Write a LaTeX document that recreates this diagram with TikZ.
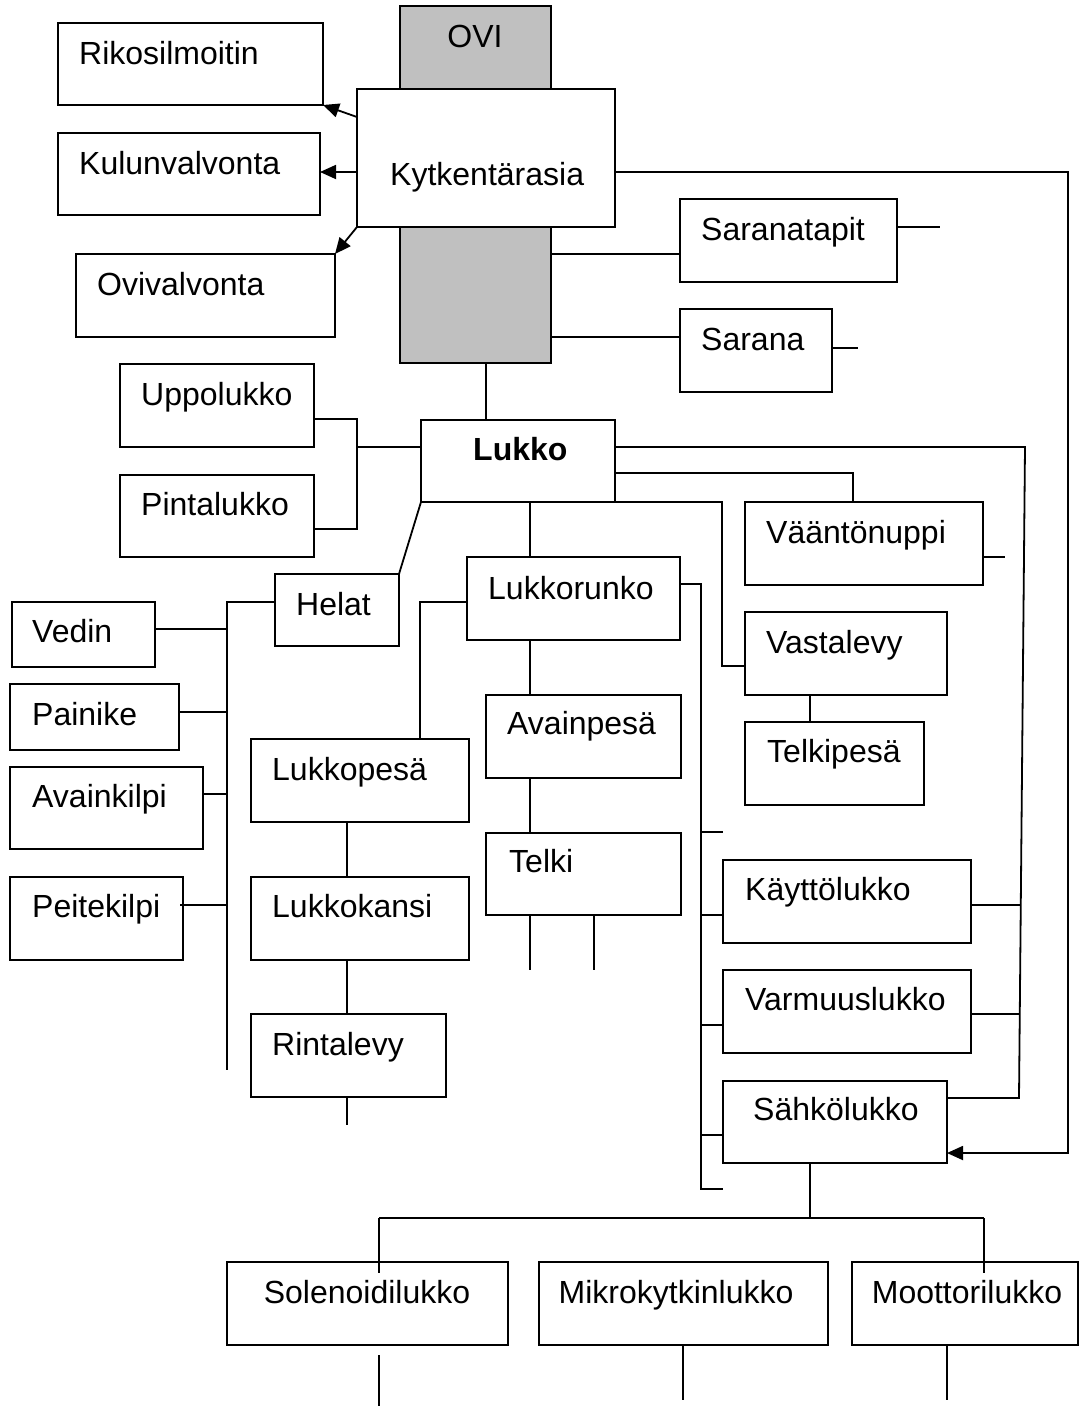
\documentclass[tikz,border=0pt]{standalone}
\usepackage{fontspec}
\setmainfont{Liberation Sans}
\usetikzlibrary{arrows.meta,fit}
\definecolor{doorgray}{RGB}{192,192,192}
\tikzset{
  box/.style={draw, line width=1.8pt, inner sep=0pt, outer sep=0pt},
  lbl/.style={anchor=base west, inner sep=0pt, font=\fontsize{32}{36}\selectfont},
  ln/.style={line width=1.8pt},
  arr/.style={line width=1.8pt, -{Triangle[length=16pt,width=14pt]}},
}
\newcommand\bx[6][]{\node[box,#1, fit={(#3,#4) (#5,#6)}] (#2) {};}
\begin{document}
\begin{tikzpicture}[x=1pt,y=-1pt]
\useasboundingbox (0,0) rectangle (1080,1406);

% door leaf and junction box
\bx[fill=doorgray]{ovi}{400}{6}{551}{363}
\node[lbl, anchor=base] (ovit) at (475,47) {OVI};
\bx[fill=white]{kyt}{357}{89}{615}{227}
\node[lbl] (kytt) at (390,185) {Kytkentärasia};

% monitoring systems
\bx{rikos}{58}{23}{323}{105}
\node[lbl] (rikost) at (79,64) {Rikosilmoitin};
\bx{kulun}{58}{133}{320}{215}
\node[lbl] (kulunt) at (79,174) {Kulunvalvonta};
\bx{ovival}{76}{254}{335}{337}
\node[lbl] (ovivalt) at (97,295) {Ovivalvonta};

% hinges
\bx{tapit}{680}{199}{897}{282}
\node[lbl] (tapitt) at (701,240) {Saranatapit};
\bx{sarana}{680}{309}{832}{392}
\node[lbl] (saranat) at (701,350) {Sarana};

% lock
\bx{lukko}{421}{420}{615}{502}
\node[lbl, font=\fontsize{32}{36}\selectfont\bfseries] (lukkot) at (473,460) {Lukko};
\bx{uppo}{120}{364}{314}{447}
\node[lbl] (uppot) at (141,405) {Uppolukko};
\bx{pinta}{120}{475}{314}{557}
\node[lbl] (pintat) at (141,515) {Pintalukko};
\bx{vaanto}{745}{502}{983}{585}
\node[lbl] (vaantot) at (766,543) {Vääntönuppi};

% fittings
\bx{helat}{275}{574}{399}{646}
\node[lbl] (helatt) at (296,615) {Helat};
\bx{vedin}{12}{602}{155}{667}
\node[lbl] (vedint) at (32,642) {Vedin};
\bx{painike}{10}{684}{179}{750}
\node[lbl] (painiket) at (32,725) {Painike};
\bx{avkilpi}{10}{767}{203}{849}
\node[lbl] (avkilpit) at (32,807) {Avainkilpi};
\bx{peite}{10}{877}{183}{960}
\node[lbl] (peitet) at (32,917) {Peitekilpi};

% lock body
\bx{runko}{467}{557}{680}{640}
\node[lbl] (runkot) at (488,599) {Lukkorunko};
\bx{lpesa}{251}{739}{469}{822}
\node[lbl] (lpesat) at (272,780) {Lukkopesä};
\bx{lkansi}{251}{877}{469}{960}
\node[lbl] (lkansit) at (272,917) {Lukkokansi};
\bx{rinta}{251}{1014}{446}{1097}
\node[lbl] (rintat) at (272,1055) {Rintalevy};
\bx{avain}{486}{695}{681}{778}
\node[lbl] (avaint) at (507,734) {Avainpesä};
\bx{telki}{486}{833}{681}{915}
\node[lbl] (telkit) at (509,872) {Telki};

% strike side
\bx{vasta}{745}{612}{947}{695}
\node[lbl] (vastat) at (766,653) {Vastalevy};
\bx{tpesa}{745}{722}{924}{805}
\node[lbl] (tpesat) at (767,762) {Telkipesä};

% lock types
\bx{kaytto}{723}{860}{971}{943}
\node[lbl] (kayttot) at (745,900) {Käyttölukko};
\bx{varmuus}{723}{970}{971}{1053}
\node[lbl] (varmuust) at (745,1010) {Varmuuslukko};
\bx{sahko}{723}{1081}{947}{1163}
\node[lbl] (sahkot) at (753,1120) {Sähkölukko};

% electric lock types
\bx{sole}{227}{1262}{508}{1345}
\node[lbl, anchor=base] (solet) at (367,1303) {Solenoidilukko};
\bx{mikro}{539}{1262}{828}{1345}
\node[lbl, anchor=base] (mikrot) at (676,1303) {Mikrokytkinlukko};
\bx{moot}{852}{1262}{1078}{1345}
\node[lbl, anchor=base] (moott) at (967,1303) {Moottorilukko};

% junction box outputs
\draw[arr] (kyt.west |- 0,117) -- (rikos.south east);
\draw[arr] (kyt.west |- 0,172) -- (kulun.east |- 0,172);
\draw[arr] (kyt.south west) -- (ovival.north east);
\draw[arr] (kyt.east |- 0,172) -- (1068,172) -- (1068,1153) -- (sahko.east |- 0,1153);

% door to hinges and lock
\draw[ln] (ovi.east |- 0,254) -- (tapit.west |- 0,254);
\draw[ln] (tapit.east |- 0,227) -- (940,227);
\draw[ln] (ovi.east |- 0,337) -- (sarana.west |- 0,337);
\draw[ln] (sarana.east |- 0,348) -- (858,348);
\draw[ln] (ovi.south -| 486,0) -- (lukko.north -| 486,0);

% lock branches
\draw[ln] (uppo.east |- 0,419) -- (357,419) -- (357,529) -- (pinta.east |- 0,529);
\draw[ln] (lukko.west |- 0,447) -- (357,447);
\draw[ln] (lukko.east |- 0,447) -- (1025,447) -- (1019,1098) -- (sahko.east |- 0,1098);
\draw[ln] (kaytto.east |- 0,905) -- (1021,905);
\draw[ln] (varmuus.east |- 0,1014) -- (1020,1014);
\draw[ln] (lukko.east |- 0,473) -- (853,473) -- (vaanto.north -| 853,0);
\draw[ln] (vaanto.east |- 0,557) -- (1005,557);
\draw[ln] (lukko.south east) -- (722,502) -- (722,666) -- (vasta.west |- 0,666);
\draw[ln] (vasta.south -| 810,0) -- (tpesa.north -| 810,0);
\draw[ln] (lukko.south -| 530,0) -- (runko.north -| 530,0);
\draw[ln] (lukko.south west) -- (helat.north east);

% fittings
\draw[ln] (helat.west |- 0,602) -- (227,602) -- (227,1070);
\draw[ln] (vedin.east |- 0,629) -- (227,629);
\draw[ln] (painike.east |- 0,712) -- (227,712);
\draw[ln] (avkilpi.east |- 0,794) -- (227,794);
\draw[ln] (180,905) -- (227,905);

% lock body parts
\draw[ln] (runko.west |- 0,602) -- (420,602) -- (lpesa.north -| 420,0);
\draw[ln] (lpesa.south -| 347,0) -- (lkansi.north -| 347,0);
\draw[ln] (lkansi.south -| 347,0) -- (rinta.north -| 347,0);
\draw[ln] (rinta.south -| 347,0) -- (347,1125);
\draw[ln] (runko.south -| 530,0) -- (avain.north -| 530,0);
\draw[ln] (avain.south -| 530,0) -- (telki.north -| 530,0);
\draw[ln] (telki.south -| 530,0) -- (530,970);
\draw[ln] (telki.south -| 594,0) -- (594,970);

% lock body to lock types
\draw[ln] (runko.east |- 0,584) -- (701,584) -- (701,1189) -- (723,1189);
\draw[ln] (701,832) -- (723,832);
\draw[ln] (701,915) -- (kaytto.west |- 0,915);
\draw[ln] (701,1025) -- (varmuus.west |- 0,1025);
\draw[ln] (701,1135) -- (sahko.west |- 0,1135);

% electric lock branches
\draw[ln] (sahko.south -| 810,0) -- (810,1218);
\draw[ln] (379,1218) -- (984,1218);
\draw[ln] (379,1218) -- (379,1273);
\draw[ln] (984,1218) -- (984,1273);
\draw[ln] (379,1355) -- (379,1406);
\draw[ln] (mikro.south -| 683,0) -- (683,1400);
\draw[ln] (moot.south -| 947,0) -- (947,1400);
\end{tikzpicture}
\end{document}
